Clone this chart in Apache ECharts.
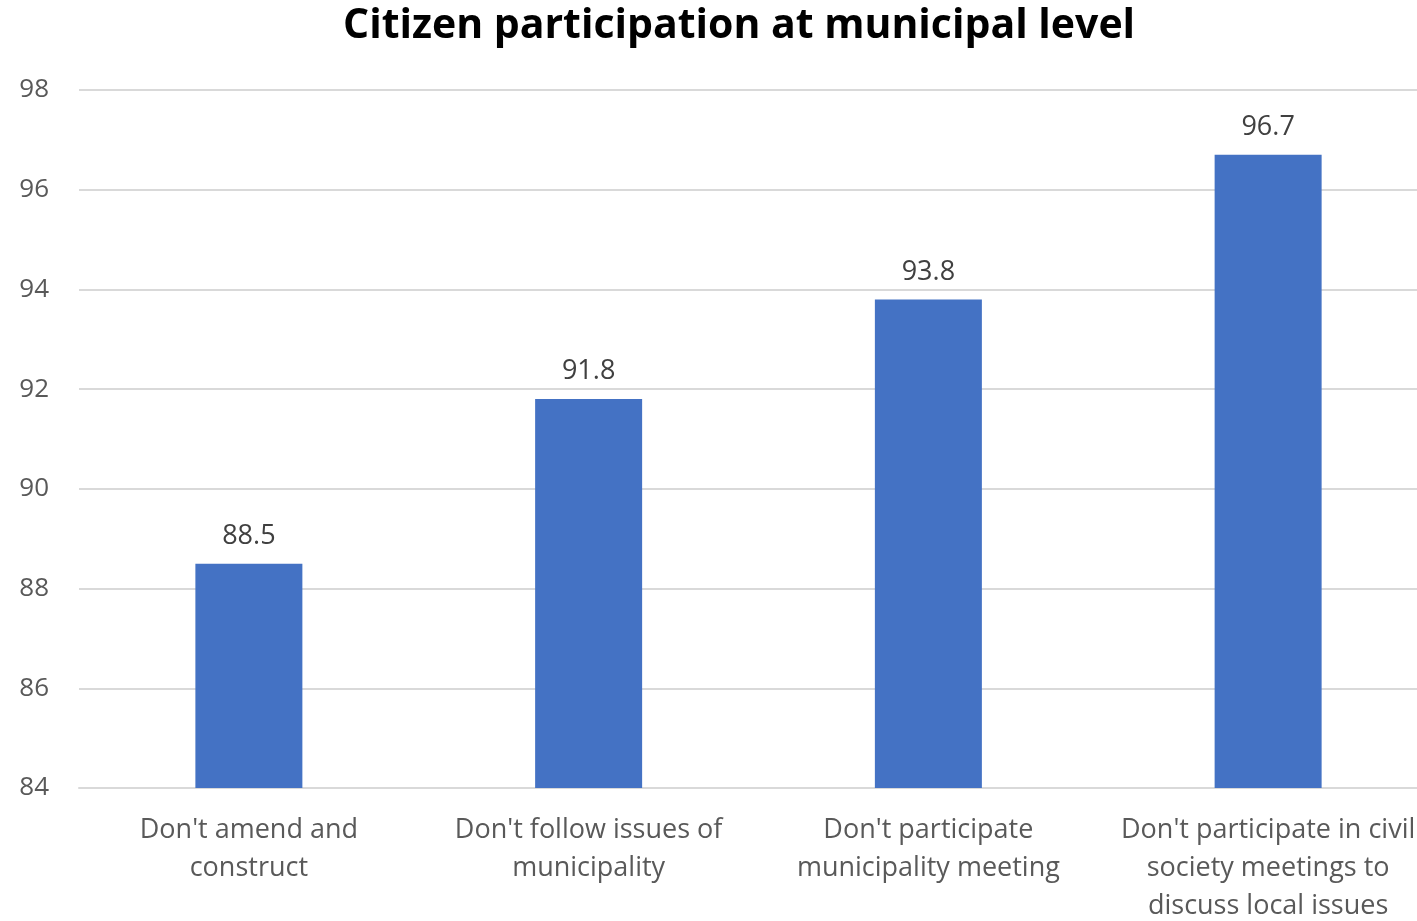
<!DOCTYPE html>
<html>
<head>
<meta charset="utf-8">
<script src="https://cdn.jsdelivr.net/npm/echarts@6/dist/echarts.min.js"></script>
<style>
  html, body { margin: 0; padding: 0; background: #fff; }
  #chart { width: 1417px; height: 921px; }
</style>
</head>
<body>
<div id="chart"></div>
<script>
// Share of respondents (%) who do not take part, by activity
const categories = [
  "Don't amend and\nconstruct",
  "Don't follow issues of\nmunicipality",
  "Don't participate\nmunicipality meeting",
  "Don't participate in civil\nsociety meetings to\ndiscuss local issues"
];
const values = [88.5, 91.8, 93.8, 96.7];
const yMin = 84;
const yMax = 98;
const yStep = 2;

const font = "'Open Sans', 'Noto Sans', sans-serif";
const chart = echarts.init(document.getElementById('chart'));
chart.setOption({
  animation: false,
  title: {
    text: 'Citizen participation at municipal level',
    left: 338,
    top: 1,
    textStyle: { fontFamily: font, fontSize: 41, fontWeight: 'bold', color: '#000' }
  },
  grid: {
    left: 79, right: -21, top: 90, bottom: 133,
    containLabel: false,
    outerBoundsMode: 'none'
  },
  xAxis: {
    type: 'category',
    data: categories,
    axisLine: { lineStyle: { color: '#d9d9d9', width: 2 } },
    axisTick: { show: false },
    axisLabel: {
      interval: 0,
      margin: 23,
      fontFamily: font,
      fontSize: 27,
      lineHeight: 38,
      color: '#595959'
    }
  },
  yAxis: {
    type: 'value',
    min: yMin,
    max: yMax,
    interval: yStep,
    axisLine: { show: false },
    axisTick: { show: false },
    axisLabel: { fontFamily: font, fontSize: 26, color: '#595959', margin: 30 },
    splitLine: { lineStyle: { color: '#d9d9d9', width: 2 } }
  },
  series: [{
    type: 'bar',
    data: values,
    barWidth: 107,
    itemStyle: { color: '#4472c4' },
    label: {
      show: true,
      position: 'top',
      distance: 14,
      fontFamily: font,
      fontSize: 27,
      color: '#404040'
    }
  }]
});
</script>
</body>
</html>
